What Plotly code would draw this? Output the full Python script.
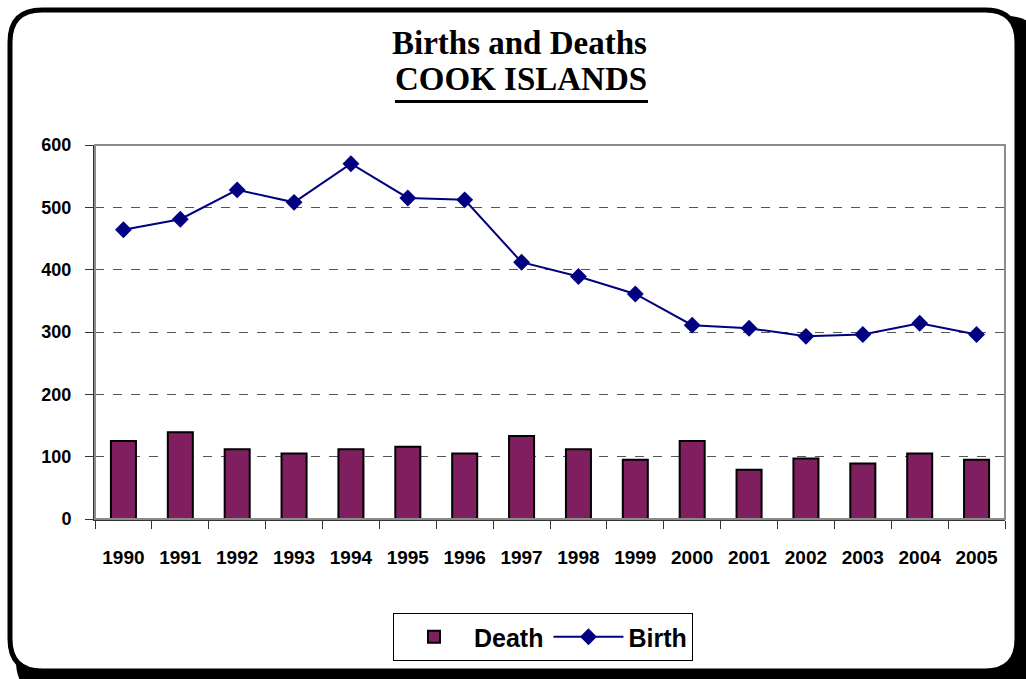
import plotly.graph_objects as go

years = [str(y) for y in range(1990, 2006)]
deaths = [125, 139, 112, 105, 112, 116, 105, 133, 112, 95, 125, 79, 97, 89, 105, 95]
births = [464, 481, 528, 508, 570, 515, 512, 412, 389, 361, 311, 306, 293, 296, 314, 296]

W, H = 1026, 679
ML, MR, MT, MB = 95, 21, 145, 160
PW, PH = W - ML - MR, H - MT - MB

SANS = "Arial, Liberation Sans"
SERIF = "Times New Roman, Liberation Serif"


def px(x):
    return (x - ML) / PW


def py(y):
    return (H - MB - y) / PH


def rounded(x0, y0, x1, y1, r):
    # rounded rectangle path in paper coords, from pixel corners
    pts = [
        f"M {px(x0 + r)},{py(y0)}",
        f"L {px(x1 - r)},{py(y0)}",
        f"Q {px(x1)},{py(y0)} {px(x1)},{py(y0 + r)}",
        f"L {px(x1)},{py(y1 - r)}",
        f"Q {px(x1)},{py(y1)} {px(x1 - r)},{py(y1)}",
        f"L {px(x0 + r)},{py(y1)}",
        f"Q {px(x0)},{py(y1)} {px(x0)},{py(y1 - r)}",
        f"L {px(x0)},{py(y0 + r)}",
        f"Q {px(x0)},{py(y0)} {px(x0 + r)},{py(y0)}",
        "Z",
    ]
    return " ".join(pts)


fig = go.Figure()
fig.add_trace(go.Bar(
    x=years, y=deaths, name="Death",
    marker=dict(color="#7F1F5F", line=dict(color="black", width=2)),
))
fig.add_trace(go.Scatter(
    x=years, y=births, name="Birth", mode="lines+markers",
    line=dict(color="#000080", width=2),
    marker=dict(symbol="diamond", size=13, color="#000080"),
))

shapes = [
    # shadow
    dict(type="path", xref="paper", yref="paper", layer="below",
         path=rounded(16, 16, 1040, 695, 34), fillcolor="black", line=dict(width=0)),
    # frame
    dict(type="path", xref="paper", yref="paper", layer="below",
         path=rounded(10, 10, 1017, 671, 32), fillcolor="white",
         line=dict(color="black", width=5)),
    # plot border top/right
    dict(type="rect", xref="paper", yref="paper", x0=0, y0=0, x1=1, y1=1,
         line=dict(color="#8c8c8c", width=2)),
    # subtitle underline
    dict(type="line", xref="paper", yref="paper",
         x0=px(395), x1=px(648), y0=py(101.5), y1=py(101.5),
         line=dict(color="black", width=3)),
]

fig.update_layout(
    width=W, height=H,
    margin=dict(l=ML, r=MR, t=MT, b=MB, autoexpand=False),
    paper_bgcolor="white", plot_bgcolor="rgba(0,0,0,0)",
    font=dict(family=SANS, color="black"),
    bargap=0.56,
    shapes=shapes,
    showlegend=True,
    legend=dict(
        orientation="h", x=px(543), xanchor="center", y=py(613), yanchor="top",
        font=dict(size=25, family=SANS, weight="bold"),
        bordercolor="black", borderwidth=1, bgcolor="white",
        itemwidth=70,
    ),
    annotations=[
        dict(text="<b>Births and Deaths</b>", xref="paper", yref="paper",
             x=px(519), y=py(43), xanchor="center", yanchor="middle", showarrow=False,
             font=dict(family=SERIF, size=33)),
        dict(text="<b>COOK ISLANDS</b>", xref="paper", yref="paper",
             x=px(521), y=py(79), xanchor="center", yanchor="middle", showarrow=False,
             font=dict(family=SERIF, size=33)),
    ],
)

fig.update_xaxes(
    type="category", range=[-0.5, 15.5], automargin=False, tickangle=0,
    showline=True, linecolor="#333333", linewidth=2,
    ticks="outside", tickson="boundaries", ticklen=8, tickcolor="#333333",
    ticklabelstandoff=20,
    showgrid=False,
    tickfont=dict(size=19, weight="bold"),
)
fig.update_yaxes(
    range=[0, 600], dtick=100, automargin=False,
    showline=True, linecolor="#333333", linewidth=2,
    ticks="outside", ticklen=8, tickcolor="#333333",
    ticklabelstandoff=10,
    gridcolor="#555555", griddash="dash", gridwidth=1,
    zeroline=False,
    tickfont=dict(size=18, weight="bold"),
)

fig.write_html("out.html", config={"displayModeBar": False},
               post_script="document.body.style.margin='0';")
